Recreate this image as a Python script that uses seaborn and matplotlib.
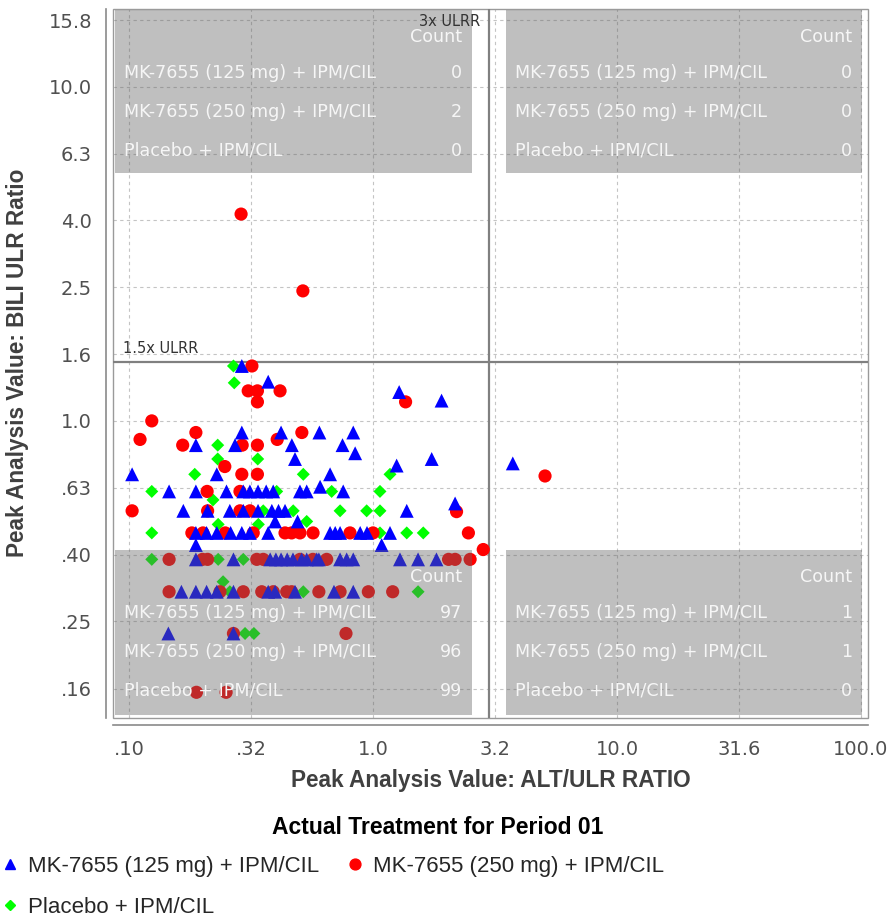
import matplotlib
matplotlib.use("Agg")
import matplotlib.pyplot as plt
from matplotlib.lines import Line2D
from matplotlib.patches import Rectangle
from matplotlib.ticker import NullLocator
import pandas as pd
import seaborn as sns

# ---------------------------------------------------------------- data
treatments = ["MK-7655 (125 mg) + IPM/CIL", "MK-7655 (250 mg) + IPM/CIL", "Placebo + IPM/CIL"]
colors = ["#0000ff", "#ff0000", "#00ff00"]
markers = ["^", "o", "D"]
marker_areas = [100, 90, 44]
legend_marker_sizes = [7.2, 7.8, 5.6]

# peak ALT/ULN ratio and peak bilirubin/ULN ratio per subject
alt_125 = [0.290, 0.372, 1.28, 1.91,
           0.290, 0.420, 0.603, 0.83,
           0.188, 0.272, 0.465, 0.75, 0.845,
           0.479, 1.74, 1.25, 3.74,
           0.103, 0.229, 0.667, 0.607,
           0.146, 0.188, 0.251, 0.294, 0.313, 0.338, 0.365, 0.390, 0.502, 0.535, 0.755,
           2.17,
           0.167, 0.210, 0.259, 0.294, 0.338, 0.385, 0.410, 0.436, 1.375,
           0.397, 0.491,
           0.188, 0.208, 0.229, 0.261, 0.290, 0.313, 0.372, 0.667, 0.700, 0.733, 0.886, 0.945, 1.174,
           0.188, 1.085,
           0.188, 0.268, 0.379, 0.400, 0.420, 0.445, 0.470, 0.510, 0.535, 0.588, 0.600, 0.733, 0.780,
           0.830, 1.29, 1.53, 1.82,
           0.164, 0.188, 0.208, 0.229, 0.268, 0.372, 0.397, 0.479, 0.692, 0.830,
           0.145, 0.268]
bili_125 = [1.46, 1.31, 1.22, 1.15,
            0.923, 0.923, 0.923, 0.923,
            0.846, 0.846, 0.846, 0.846, 0.80,
            0.769, 0.769, 0.735, 0.746,
            0.692, 0.692, 0.692, 0.635,
            0.615, 0.615, 0.615, 0.615, 0.615, 0.615, 0.615, 0.615, 0.615, 0.615, 0.615,
            0.566,
            0.538, 0.538, 0.538, 0.538, 0.538, 0.538, 0.538, 0.538, 0.538,
            0.50, 0.50,
            0.462, 0.462, 0.462, 0.462, 0.462, 0.462, 0.462, 0.462, 0.462, 0.462, 0.462, 0.462, 0.462,
            0.425, 0.425,
            0.385, 0.385, 0.385, 0.385, 0.385, 0.385, 0.385, 0.385, 0.385, 0.385, 0.385, 0.385, 0.385,
            0.385, 0.385, 0.385, 0.385,
            0.308, 0.308, 0.308, 0.308, 0.308, 0.308, 0.308, 0.308, 0.308, 0.308,
            0.231, 0.231]

alt_250 = [0.288, 0.516,
           0.319, 0.308, 0.336, 0.416, 0.336, 1.36,
           0.124, 0.188, 0.511, 0.111, 0.405,
           0.166, 0.291, 0.336, 0.247,
           0.290, 0.336, 5.07,
           0.209, 0.285,
           0.103, 0.210, 0.285, 0.313, 2.20,
           0.181, 0.201, 0.248, 0.323, 0.436, 0.464, 0.502, 0.568, 0.805, 1.00, 2.46,
           2.83,
           0.146, 0.200, 0.210, 0.334, 0.355, 0.502, 0.567, 0.646, 2.04, 2.17, 2.50,
           0.146, 0.236, 0.294, 0.350, 0.390, 0.443, 0.464, 0.600, 0.733, 0.957, 1.204,
           0.268, 0.775,
           0.189, 0.250]
bili_250 = [4.16, 2.45,
            1.46, 1.23, 1.23, 1.23, 1.14, 1.14,
            1.00, 0.923, 0.923, 0.88, 0.88,
            0.846, 0.846, 0.846, 0.73,
            0.692, 0.692, 0.684,
            0.615, 0.615,
            0.538, 0.538, 0.538, 0.538, 0.535,
            0.462, 0.462, 0.462, 0.462, 0.462, 0.462, 0.462, 0.462, 0.462, 0.462, 0.462,
            0.412,
            0.385, 0.385, 0.385, 0.385, 0.385, 0.385, 0.385, 0.385, 0.385, 0.385, 0.385,
            0.308, 0.308, 0.308, 0.308, 0.308, 0.308, 0.308, 0.308, 0.308, 0.308, 0.308,
            0.231, 0.231,
            0.154, 0.154]

alt_pbo = [0.268, 0.270,
           0.231, 0.231, 0.337,
           0.186, 0.518, 1.174,
           0.124, 0.403, 0.677, 1.068,
           0.221,
           0.355, 0.471, 0.733, 0.942, 1.068,
           0.535, 0.232, 0.339,
           0.124, 1.068, 1.375, 1.607,
           0.124, 0.232, 0.294,
           0.243,
           0.259, 0.518, 1.53,
           0.299, 0.325]
bili_pbo = [1.46, 1.30,
            0.846, 0.769, 0.769,
            0.692, 0.692, 0.692,
            0.615, 0.615, 0.615, 0.615,
            0.58,
            0.538, 0.538, 0.538, 0.538, 0.538,
            0.50, 0.49, 0.49,
            0.462, 0.462, 0.462, 0.462,
            0.385, 0.385, 0.385,
            0.33,
            0.308, 0.308, 0.308,
            0.231, 0.231]

# subject counts per quadrant (rows follow `treatments`)
counts_upper_left = [0, 2, 0]
counts_upper_right = [0, 0, 0]
counts_lower_left = [97, 96, 99]
counts_lower_right = [1, 1, 0]

alt_limit, alt_limit_label = 3.0, "3x ULRR"
bili_limit, bili_limit_label = 1.5, "1.5x ULRR"

x_ticks = [0.1, 0.316, 1.0, 3.16, 10.0, 31.6, 100.0]
x_tick_labels = [".10", ".32", "1.0", "3.2", "10.0", "31.6", "100.0"]
y_ticks = [0.158, 0.251, 0.398, 0.631, 1.0, 1.585, 2.512, 3.981, 6.310, 10.0, 15.85]
y_tick_labels = [".16", ".25", ".40", ".63", "1.0", "1.6", "2.5", "4.0", "6.3", "10.0", "15.8"]

x_title = "Peak Analysis Value: ALT/ULR RATIO"
y_title = "Peak Analysis Value: BILI ULR Ratio"
legend_title = "Actual Treatment for Period 01"

# ---------------------------------------------------------------- frame
df = pd.concat([
    pd.DataFrame({"alt": alt_pbo, "bili": bili_pbo, "treatment": treatments[2]}),
    pd.DataFrame({"alt": alt_250, "bili": bili_250, "treatment": treatments[1]}),
    pd.DataFrame({"alt": alt_125, "bili": bili_125, "treatment": treatments[0]}),
], ignore_index=True)

sns.set_style("white")
plt.rcParams["font.family"] = ["DejaVu Sans"]

W, H = 893, 919
fig = plt.figure(figsize=(W / 100, H / 100), dpi=100)
ax_l, ax_r, ax_t, ax_b = 113, 868, 9, 718
ax = fig.add_axes([ax_l / W, 1 - ax_b / H, (ax_r - ax_l) / W, (ax_b - ax_t) / H])
ax.set_xscale("log")
ax.set_yscale("log")

sns.scatterplot(
    data=df, x="alt", y="bili", hue="treatment", style="treatment", size="treatment",
    palette=dict(zip(treatments, colors)),
    markers=dict(zip(treatments, markers)),
    sizes=dict(zip(treatments, marker_areas)),
    linewidth=0, legend=False, ax=ax, zorder=3,
)

ax.set_xlim(0.086, 106.8)
ax.set_ylim(0.129, 17.1)
ax.set_xticks(x_ticks)
ax.set_xticklabels(x_tick_labels)
ax.set_yticks(y_ticks)
ax.set_yticklabels(y_tick_labels)
ax.xaxis.set_minor_locator(NullLocator())
ax.yaxis.set_minor_locator(NullLocator())
ax.set_xlabel("")
ax.set_ylabel("")
ax.tick_params(axis="both", labelsize=14, labelcolor="#505050", color="#8a8a8a",
               length=3.6, width=1, direction="out")
ax.tick_params(axis="x", pad=7)
ax.tick_params(axis="y", pad=6.5)
ax.grid(True, which="major", color="#c4c4c4", linestyle=(0, (3, 3)), linewidth=0.8)
ax.set_axisbelow(True)

for side in ("top", "right"):
    ax.spines[side].set_visible(False)
for side in ("left", "bottom"):
    ax.spines[side].set_position(("outward", 5))
    ax.spines[side].set_color("#8a8a8a")
    ax.spines[side].set_linewidth(1.2)
ax.add_patch(Rectangle((0, 0), 1, 1, transform=ax.transAxes, fill=False,
                       edgecolor="#9a9a9a", linewidth=1, zorder=2, clip_on=False))

# reference limits
ax.axvline(alt_limit, color="#808080", linewidth=1.6, zorder=2.5)
ax.axhline(bili_limit, color="#808080", linewidth=1.6, zorder=2.5)
ax.annotate(alt_limit_label, xy=(alt_limit, 1), xycoords=("data", "axes fraction"),
            xytext=(-9, -13), textcoords="offset pixels", ha="right", va="center",
            fontsize=10.5, color="#333333", zorder=6)
ax.annotate(bili_limit_label, xy=(0, bili_limit), xycoords=("axes fraction", "data"),
            xytext=(10, 14), textcoords="offset pixels", ha="left", va="center",
            fontsize=10.5, color="#333333", zorder=6)

# quadrant count panels
panel_boxes = {
    "upper_left": (0.0026, 0.4755, 0.7687, 0.9986),
    "upper_right": (0.5205, 0.992, 0.7687, 0.9986),
    "lower_left": (0.0026, 0.4755, 0.0042, 0.237),
    "lower_right": (0.5205, 0.992, 0.0042, 0.237),
}
panel_counts = {
    "upper_left": counts_upper_left,
    "upper_right": counts_upper_right,
    "lower_left": counts_lower_left,
    "lower_right": counts_lower_right,
}
text_kw = dict(xycoords="axes fraction", textcoords="offset pixels", va="center",
               fontsize=12.6, color="#f6f6f6", zorder=6)
for key, (x0, x1, y0, y1) in panel_boxes.items():
    ax.add_patch(Rectangle((x0, y0), x1 - x0, y1 - y0, transform=ax.transAxes,
                           facecolor="#646464", alpha=0.41, linewidth=0, zorder=4))
    ax.annotate("Count", xy=(x1, y1), xytext=(-10, -27), ha="right", **text_kw)
    for i, (name, n) in enumerate(zip(treatments, panel_counts[key])):
        dy = -63 - 39 * i
        ax.annotate(name, xy=(x0, y1), xytext=(9, dy), ha="left", **text_kw)
        ax.annotate(str(n), xy=(x1, y1), xytext=(-10, dy), ha="right", **text_kw)

# axis titles
title_kw = dict(family=["Liberation Sans", "DejaVu Sans"], fontweight="bold",
                fontsize=16.3, color="#404040")
fig.text((ax_l + ax_r) / 2 / W, 1 - 781 / H, x_title, ha="center", va="center", **title_kw)
fig.text(18 / W, 1 - 363 / H, y_title, ha="center", va="center", rotation=90, **title_kw)

# legend
fig.text(0.49, 1 - 828 / H, legend_title, ha="center", va="center",
         family=["Liberation Sans", "DejaVu Sans"], fontweight="bold",
         fontsize=16.5, color="#000000")
handles = [Line2D([], [], linestyle="None", marker=m, color=c, markersize=s)
           for m, c, s in zip(markers, colors, legend_marker_sizes)]
order = [0, 2, 1]
fig.legend([handles[i] for i in order], [treatments[i] for i in order],
           loc="upper left", bbox_to_anchor=(0.0016, 1 - 856 / H), ncol=2,
           frameon=False, borderpad=0, borderaxespad=0, handlelength=0.8,
           handletextpad=0.4, columnspacing=1.22, labelspacing=0.9,
           prop={"family": ["Liberation Sans", "DejaVu Sans"], "size": 16})

fig.savefig("out.png", dpi=100)
